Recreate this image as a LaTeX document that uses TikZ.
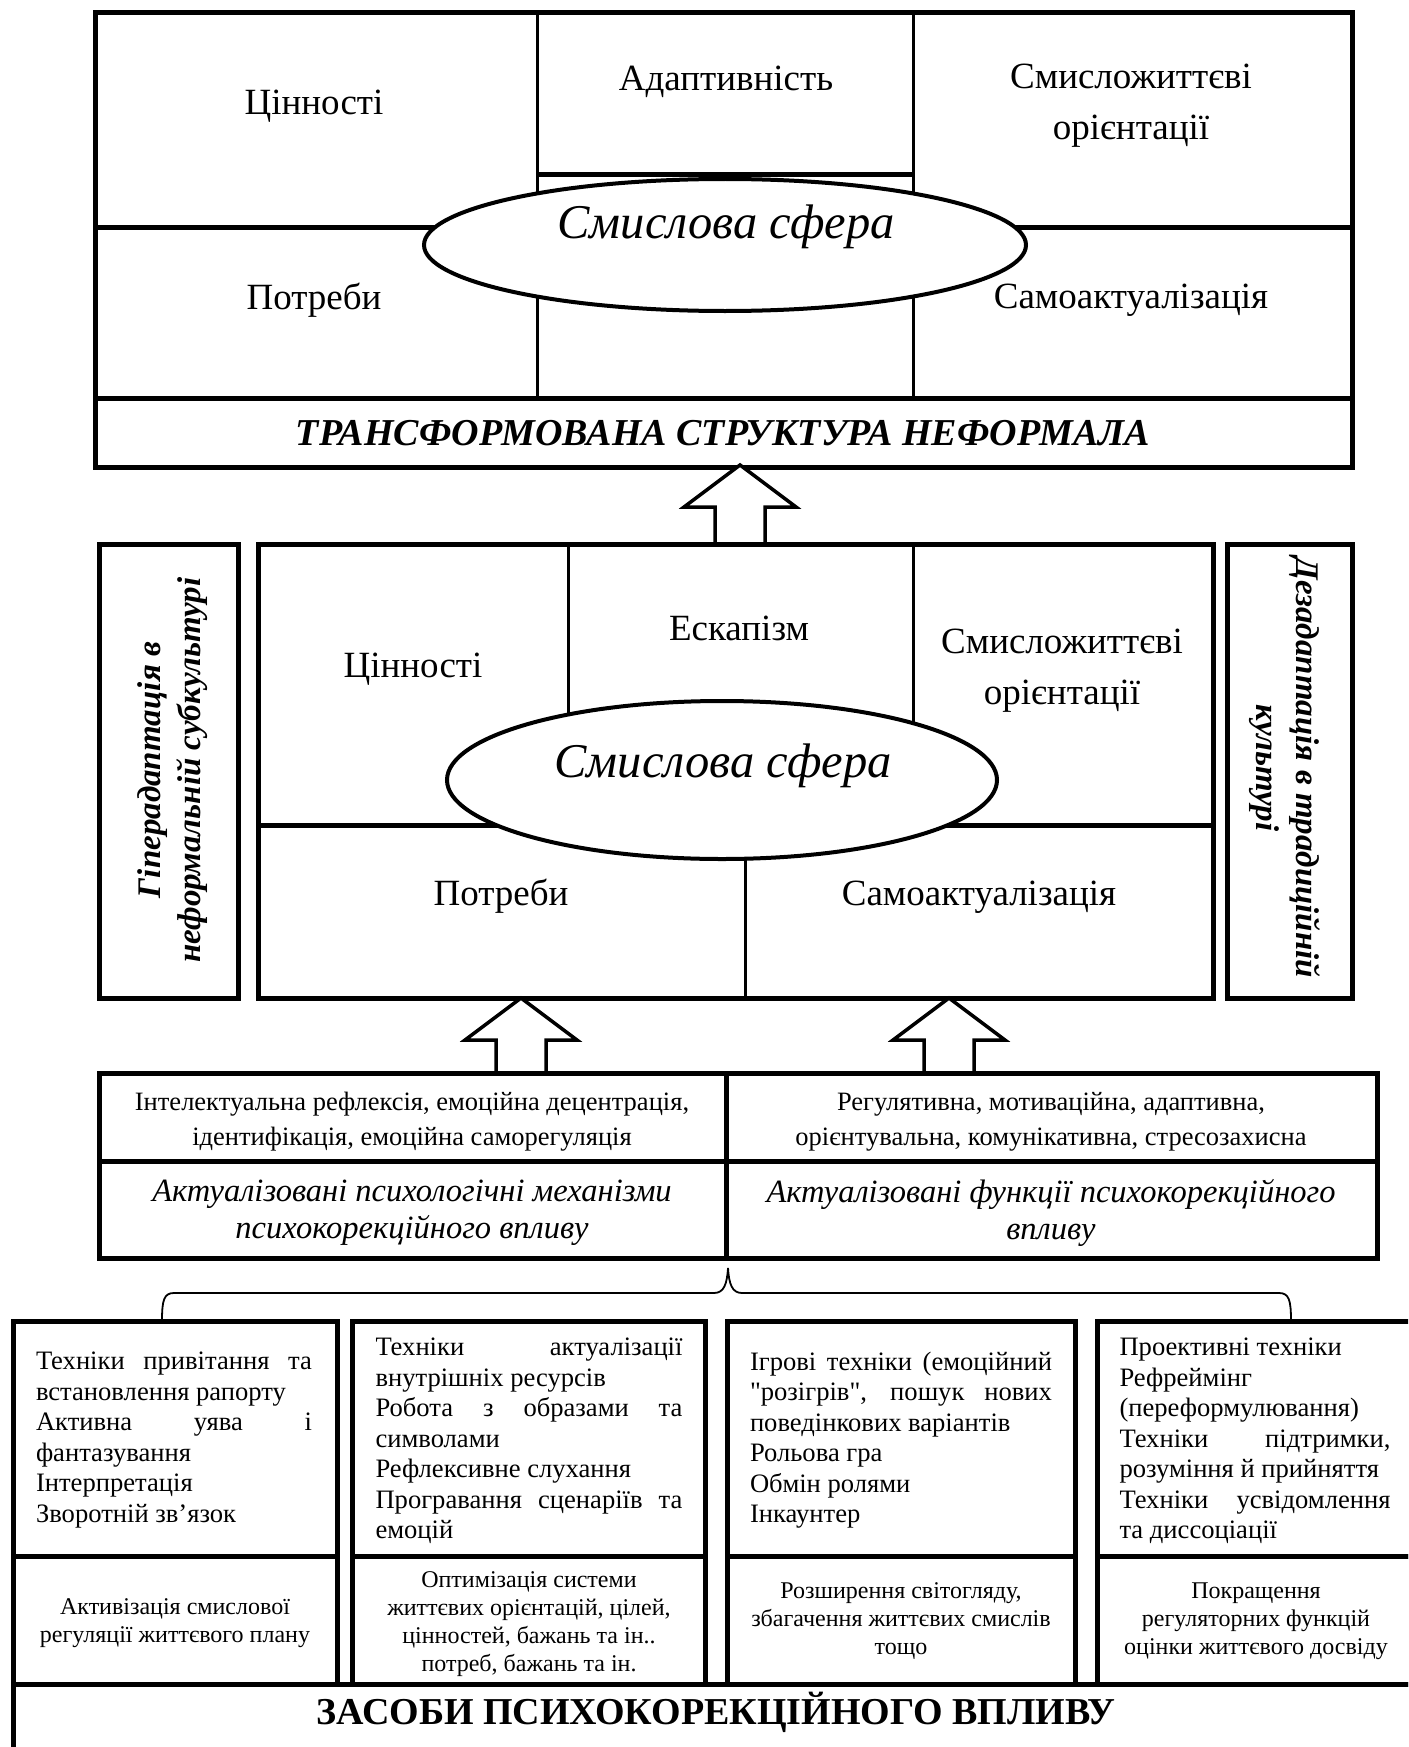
\documentclass[tikz,border=0pt]{standalone}
\usepackage{fontspec}
\setmainfont{Liberation Serif}[Ligatures=TeXOff]
\usetikzlibrary{fit,shapes.geometric}
\hyphenpenalty=10000

\begin{document}
\begin{tikzpicture}[x=1pt,y=-1pt,
    box/.style={draw,line width=5pt,inner sep=0pt},
    cellline/.style={line width=3pt},
    boldline/.style={line width=5pt},
    oval/.style={draw,ellipse,fill=white,line width=4pt,inner sep=0pt},
    lbl/.style={font=\fontsize{37}{51}\selectfont,align=center},
    sphere/.style={font=\fontsize{48.5}{52}\selectfont\itshape},
    heading/.style={font=\fontsize{38}{44}\selectfont\bfseries\itshape},
    sidetext/.style={font=\fontsize{33}{40}\selectfont\bfseries\itshape,align=center},
    mech/.style={font=\fontsize{26.5}{35}\selectfont,align=center},
    actual/.style={font=\fontsize{32.5}{37}\selectfont\itshape,align=center},
    tech/.style={font=\fontsize{26.6}{30.5}\selectfont,align=justify,inner sep=0pt},
    result/.style={font=\fontsize{24}{28}\selectfont,align=center},
    means/.style={font=\fontsize{38}{44}\selectfont\bfseries},
    uparrow/.pic={\draw[line width=3.5pt,fill=white,line join=miter]
      (0,0) -- (56,42) -- (25,42) -- (25,#1) -- (-25,#1) -- (-25,42) -- (-56,42) -- cycle;}]
  \useasboundingbox (0,0) rectangle (1408,1747);
  \clip (0,0) rectangle (1408,1747);

  \draw[cellline] (537,13) -- (537,398);
  \draw[cellline] (913,13) -- (913,398);
  \draw[boldline] (537,175) -- (913,175);
  \draw[boldline] (95,227) -- (1352,227);
  \node[oval,minimum width=602,minimum height=132] (toval) at (725,245) {};
  \node[box,fit={(95,13) (1352,398)}] (top) {};
  \node[box,fit={(95,398) (1352,467)}] (titlebox) {};
  \node[lbl] (tvalues) at (314,106) {Цінності};
  \node[lbl] (tadapt) at (726,82) {Адаптивність};
  \node[lbl] (torient) at (1131,106) {Смисложиттєві\\орієнтації};
  \node[lbl] (tneeds) at (314,300) {Потреби};
  \node[lbl] (tself) at (1131,300) {Самоактуалізація};
  \node[sphere] (tsphere) at (726,227) {Смислова сфера};
  \node[heading] (title) at (723,433) {ТРАНСФОРМОВАНА СТРУКТУРА НЕФОРМАЛА};

  \coordinate (arrtop) at (740,465);
  \pic at (arrtop) {uparrow=79};

  \draw[cellline] (568,544) -- (568,825);
  \draw[cellline] (913,544) -- (913,825);
  \draw[boldline] (258,825) -- (1213,825);
  \draw[cellline] (745,825) -- (745,998);
  \node[oval,minimum width=550,minimum height=158] (moval) at (722,780) {};
  \node[box,fit={(258,544) (1213,998)}] (mid) {};
  \node[box,fit={(99,544) (238,998)}] (lside) {};
  \node[box,fit={(1227,544) (1352,998)}] (rside) {};
  \node[lbl] (mvalues) at (413,669) {Цінності};
  \node[lbl] (mesc) at (739,628) {Ескапізм};
  \node[lbl] (morient) at (1062,671) {Смисложиттєві\\орієнтації};
  \node[lbl] (mneeds) at (501,896) {Потреби};
  \node[lbl] (mself) at (979,897) {Самоактуалізація};
  \node[sphere] (msphere) at (723,766) {Смислова сфера};
  \node[sidetext,rotate=90] (ltext) at (173,770) {Гіперадаптація в\\неформальній субкультурі};
  \node[sidetext,rotate=-90] (rtext) at (1285,768) {Дезадаптація в традиційній\\культурі};

  \coordinate (arrleft) at (521,998);
  \coordinate (arrright) at (949,998);
  \pic at (arrleft) {uparrow=75};
  \pic at (arrright) {uparrow=75};

  \node[mech] (mechl) at (412,1122) {Інтелектуальна рефлексія, емоційна децентрація,\\ідентифікація, емоційна саморегуляція};
  \node[mech] (mechr) at (1051,1122) {Регулятивна, мотиваційна, адаптивна,\\орієнтувальна, комунікативна, стресозахисна};
  \node[actual] (actl) at (412,1213) {Актуалізовані психологічні механізми\\психокорекційного впливу};
  \node[actual] (actr) at (1051,1213) {Актуалізовані функції психокорекційного\\впливу};
  \draw[boldline] (99,1161) -- (1377,1161);
  \draw[boldline] (726,1073) -- (726,1258);
  \node[box,fit={(99,1073) (1377,1258)}] (actbox) {};

  \coordinate (bl) at (162,1321);
  \coordinate (btip) at (728,1268);
  \coordinate (br) at (1291,1321);
  \draw[line width=1.8pt] (bl) .. controls (162,1300) and (164,1293) .. (174,1293) -- (714,1293)
    .. controls (724,1293) and (727,1284) .. (btip) .. controls (729,1284) and (732,1293) .. (742,1293)
    -- (1279,1293) .. controls (1289,1293) and (1291,1300) .. (br);

  \node[box,fit={(13,1321) (337,1556)}] (techa) {};
  \node[box,fit={(352,1321) (705,1556)}] (techb) {};
  \node[box,fit={(727,1321) (1075,1556)}] (techc) {};
  \node[box,fit={(1097,1321) (1416,1556)}] (techd) {};
  \node[box,fit={(13,1556) (337,1684)}] (resa) {};
  \node[box,fit={(352,1556) (705,1684)}] (resb) {};
  \node[box,fit={(727,1556) (1075,1684)}] (resc) {};
  \node[box,fit={(1097,1556) (1416,1684)}] (resd) {};
  \node[box,fit={(13,1684) (1416,1770)}] (meansbox) {};

  \node[tech,text width=276] (ta) at (174,1440) {Техніки привітання та\linebreak встановлення рапорту\par
    Активна уява і\linebreak фантазування\par Інтерпретація\par Зворотній зв’язок};
  \node[tech,text width=307] (tb) at (529,1441) {Техніки актуалізації\linebreak внутрішніх ресурсів\par
    Робота з образами та\linebreak символами\par Рефлексивне слухання\par
    Програвання сценаріїв та\linebreak емоцій};
  \node[tech,text width=302] (tc) at (901,1440) {Ігрові техніки (емоційний\linebreak "розігрів", пошук нових\linebreak
    поведінкових варіантів\par Рольова гра\par Обмін ролями\par Інкаунтер};
  \node[tech,text width=271] (td) at (1255,1441) {Проективні техніки\par Рефреймінг\newline (переформулювання)\par
    Техніки підтримки,\linebreak розуміння й прийняття\par Техніки усвідомлення\linebreak та диссоціації};

  \node[result] (ra) at (175,1623) {Активізація смислової\\регуляції життєвого плану};
  \node[result] (rb) at (529,1624) {Оптимізація системи\\життєвих орієнтацій, цілей,\\цінностей, бажань та ін..\\потреб, бажань та ін.};
  \node[result] (rc) at (901,1621) {Розширення світогляду,\\збагачення життєвих смислів\\тощо};
  \node[result] (rd) at (1256,1621) {Покращення\\регуляторних функцій\\оцінки життєвого досвіду};
  \node[means] (means) at (716,1712) {ЗАСОБИ ПСИХОКОРЕКЦІЙНОГО ВПЛИВУ};
\end{tikzpicture}
\end{document}
